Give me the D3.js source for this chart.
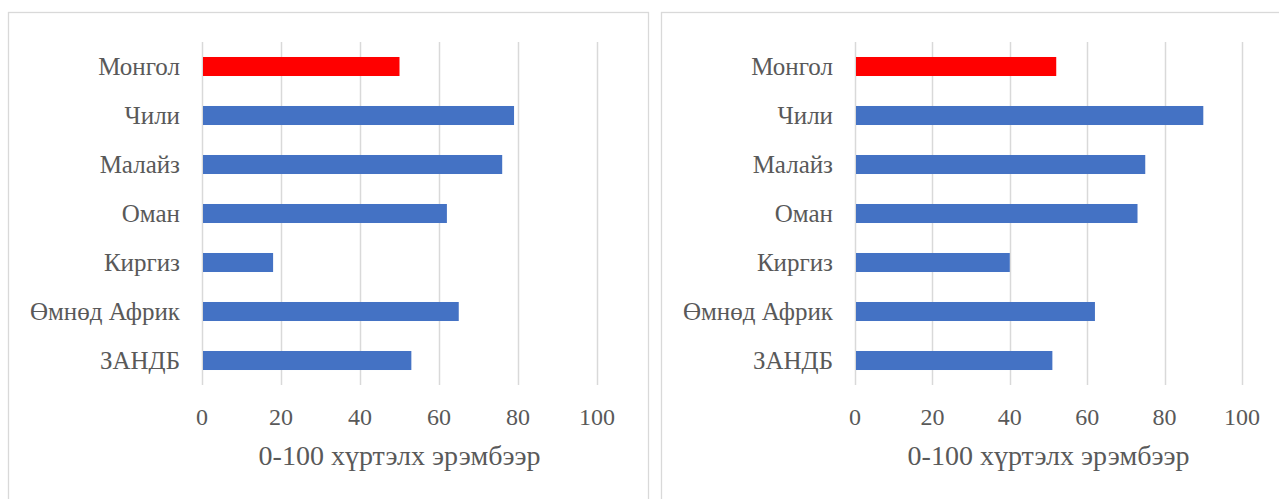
<!DOCTYPE html>
<html>
<head>
<meta charset="utf-8">
<script src="https://cdn.jsdelivr.net/npm/d3@7"></script>
<style>
  body { margin: 0; background: #fff; }
  text { font-family: "Liberation Serif", "DejaVu Serif", serif; fill: #595959; }
</style>
</head>
<body>
<div id="chart"></div>
<script>
// data
const categories = ["Монгол", "Чили", "Малайз", "Оман", "Киргиз", "Өмнөд Африк", "ЗАНДБ"];
const leftValues = [50, 79, 76, 62, 18, 65, 53];
const rightValues = [52, 90, 75, 73, 40, 62, 51];
const tickValues = [0, 20, 40, 60, 80, 100];
const axisTitle = "0-100 хүртэлх эрэмбээр";
const highlight = "Монгол";

const svg = d3.select("#chart")
    .append("svg")
    .attr("width", 1279)
    .attr("height", 499);

function drawPanel(box, plot, values) {
    // chart frame
    svg.append("rect")
        .attr("x", box.x + 0.5)
        .attr("y", box.y + 0.5)
        .attr("width", box.w)
        .attr("height", box.h)
        .attr("fill", "#fff")
        .attr("stroke", "#d9d9d9")
        .attr("stroke-width", 1.3);

    const x = d3.scaleLinear().domain([0, 100]).range([plot.x0, plot.x1]);
    const y = d3.scaleBand().domain(categories).range([plot.y0, plot.y1])
        .paddingInner(0.612).paddingOuter(0.306);

    const g = svg.append("g");

    // gridlines
    g.selectAll(".grid")
        .data(tickValues)
        .enter().append("line")
        .attr("x1", d => Math.round(x(d)) + 0.5)
        .attr("x2", d => Math.round(x(d)) + 0.5)
        .attr("y1", plot.y0)
        .attr("y2", plot.y1)
        .attr("stroke", "#d9d9d9")
        .attr("stroke-width", 1.5);

    // bars
    g.selectAll(".bar")
        .data(categories)
        .enter().append("rect")
        .attr("x", x(0) + 1)
        .attr("y", d => y(d))
        .attr("width", (d, i) => x(values[i]) - x(0) - 1)
        .attr("height", y.bandwidth())
        .attr("fill", d => d === highlight ? "#ff0000" : "#4472c4");

    // category labels
    g.selectAll(".cat")
        .data(categories)
        .enter().append("text")
        .attr("x", x(0) - 22)
        .attr("y", d => y(d) + y.bandwidth() / 2)
        .attr("dy", "0.33em")
        .attr("text-anchor", "end")
        .attr("font-size", 25)
        .text(d => d);

    // tick labels
    g.selectAll(".tick")
        .data(tickValues)
        .enter().append("text")
        .attr("x", d => x(d))
        .attr("y", 425)
        .attr("text-anchor", "middle")
        .attr("font-size", 24)
        .text(d => d);

    // axis title
    g.append("text")
        .attr("x", (plot.x0 + plot.x1) / 2)
        .attr("y", 465)
        .attr("text-anchor", "middle")
        .attr("font-size", 28)
        .text(axisTitle);
}

drawPanel({x: 8, y: 12, w: 640, h: 520}, {x0: 202, x1: 597, y0: 42, y1: 385}, leftValues);
drawPanel({x: 661, y: 12, w: 640, h: 520}, {x0: 855, x1: 1242, y0: 42, y1: 385}, rightValues);
</script>
</body>
</html>
